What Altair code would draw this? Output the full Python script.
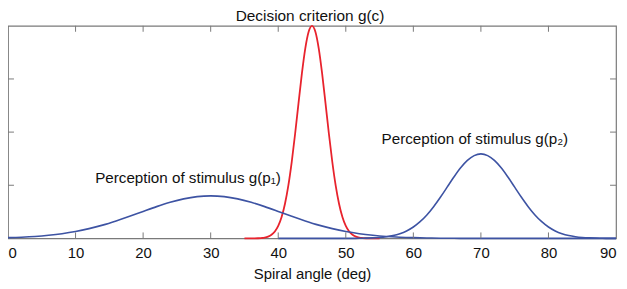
import altair as alt
import pandas as pd

# --- values ---
# Perception of stimulus g(p1): wide bump around 30 deg
b1_x = list(range(0, 92, 2))
b1_y = [0.014, 0.023, 0.037, 0.059, 0.089, 0.130, 0.184, 0.250, 0.329, 0.416,
        0.508, 0.598, 0.679, 0.744, 0.786, 0.800, 0.786, 0.744, 0.679, 0.598,
        0.508, 0.416, 0.329, 0.250, 0.184, 0.130, 0.089, 0.059, 0.037, 0.023,
        0.014, 0.008, 0.004, 0.002, 0.001, 0.001, 0, 0, 0, 0,
        0, 0, 0, 0, 0, 0]

# Perception of stimulus g(p2): bump around 70 deg
b2_x = list(range(40, 91))
b2_y = [0, 0, 0, 0, 0, 0, 0, 0, 0, 0,
        0.0005, 0.001, 0.0024, 0.005, 0.0095, 0.018, 0.032, 0.054, 0.089, 0.141,
        0.215, 0.315, 0.442, 0.597, 0.774, 0.964, 1.154, 1.328, 1.468, 1.558,
        1.590, 1.558, 1.468, 1.328, 1.154, 0.964, 0.774, 0.597, 0.442, 0.315,
        0.215, 0.141, 0.089, 0.054, 0.032, 0.018, 0.0095, 0.005, 0.0024, 0.001,
        0.0005]

# Decision criterion g(c): narrow peak at 45 deg
r_x = [35 + 0.5 * i for i in range(41)]
r_y = [0, 0, 0.0004, 0.001, 0.003, 0.007, 0.015, 0.033, 0.068, 0.130,
       0.235, 0.403, 0.652, 0.998, 1.442, 1.969, 2.542, 3.099, 3.571, 3.888,
       4.000, 3.888, 3.571, 3.099, 2.542, 1.969, 1.442, 0.998, 0.652, 0.403,
       0.235, 0.130, 0.068, 0.033, 0.015, 0.007, 0.003, 0.001, 0.0004, 0, 0]

x_ticks = [0, 10, 20, 30, 40, 50, 60, 70, 80, 90]
x_inner_ticks = [10, 20, 30, 40, 50, 60, 70, 80]
y_inner_ticks = [1, 2, 3]

notes_x = [12.9, 55.3]
notes_y = [1.047, 1.776]
notes_text = ["Perception of stimulus g(p\u2081)", "Perception of stimulus g(p\u2082)"]
title_text = ["Decision criterion g(c)"]

W, H = 612, 214
FONT = "Liberation Sans"
BLUE = "#3d53a3"
RED = "#e8232d"
GRAY = "#7a7a7a"

xs = alt.Scale(domain=[0, 90], nice=False, zero=False)
ys = alt.Scale(domain=[0, 4], nice=False)

xaxis = alt.Axis(values=x_ticks, grid=False, domain=False, ticks=False,
                 labelFont=FONT, labelFontSize=15, labelColor="#111",
                 labelPadding=7, labelFlush=True,
                 title="Spiral angle (deg)", titleFont=FONT, titleFontSize=15,
                 titleFontWeight="normal", titleColor="#111",
                 titleBaseline="alphabetic", titleY=40)


def X():
    return alt.X("x:Q", scale=xs, axis=xaxis)


def Y():
    return alt.Y("y:Q", scale=ys, axis=None)


b1 = pd.DataFrame({"x": b1_x, "y": b1_y})
b2 = pd.DataFrame({"x": b2_x, "y": b2_y})
rd = pd.DataFrame({"x": r_x, "y": r_y})

red_line = alt.Chart(rd).mark_line(color=RED, strokeWidth=1.8, interpolate="monotone").encode(x=X(), y=Y())
blue1 = alt.Chart(b1).mark_line(color=BLUE, strokeWidth=1.6, interpolate="monotone").encode(x=X(), y=Y())
blue2 = alt.Chart(b2).mark_line(color=BLUE, strokeWidth=1.6, interpolate="monotone").encode(x=X(), y=Y())

xt = pd.DataFrame({"x": x_inner_ticks})
yt = pd.DataFrame({"y": y_inner_ticks})
tick_bottom = alt.Chart(xt).mark_rule(color=GRAY, strokeWidth=1).encode(
    x=X(), y=alt.value(H), y2=alt.value(H - 6))
tick_top = alt.Chart(xt).mark_rule(color=GRAY, strokeWidth=1).encode(
    x=X(), y=alt.value(0), y2=alt.value(6))
tick_left = alt.Chart(yt).mark_rule(color=GRAY, strokeWidth=1).encode(
    y=Y(), x=alt.value(0), x2=alt.value(6))
tick_right = alt.Chart(yt).mark_rule(color=GRAY, strokeWidth=1).encode(
    y=Y(), x=alt.value(W), x2=alt.value(W - 6))

notes = pd.DataFrame({"x": notes_x, "y": notes_y, "t": notes_text})
note_marks = alt.Chart(notes).mark_text(align="left", baseline="alphabetic",
                                        font=FONT, fontSize=15.3, color="#111").encode(
    x=X(), y=Y(), text="t:N")

title_mark = alt.Chart(pd.DataFrame({"t": title_text})).mark_text(
    align="center", baseline="alphabetic", font=FONT, fontSize=15.5, color="#111"
).encode(x=alt.value(W / 2 - 2), y=alt.value(-5), text="t:N")

chart = alt.layer(
    red_line, blue1, blue2, tick_bottom, tick_top, tick_left, tick_right,
    note_marks, title_mark,
).properties(
    width=W, height=H,
    autosize=alt.AutoSizeParams(type="none"),
    padding={"left": 0, "top": 17, "right": 3, "bottom": 50},
).configure_view(stroke=GRAY, strokeWidth=1.2)

chart.save("out.html", embed_options={"renderer": "svg", "actions": False})
